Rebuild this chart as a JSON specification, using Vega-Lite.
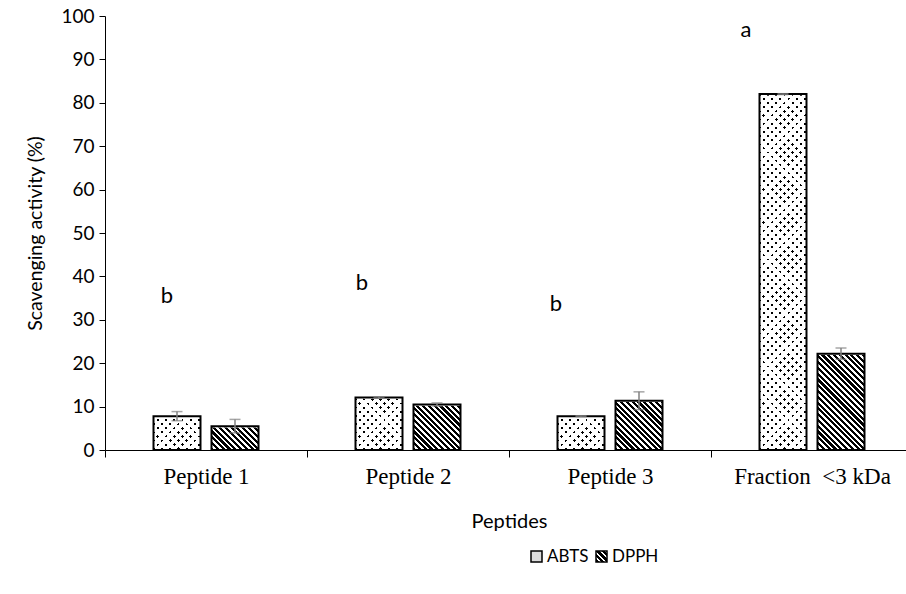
{
"$schema":"https://vega.github.io/schema/vega-lite/v6.json",
"width":801,"height":434,
"autosize":{"type":"none"},
"padding":{"left":105,"top":16,"right":0,"bottom":144},
"background":"white",
"config":{"view":{"stroke":null},"font":"Lato","axis":{"labelColor":"#000","titleColor":"#000","domainColor":"#000","tickColor":"#000","titleFontWeight":"normal","grid":false},
"axisY":{"tickSize":6,"labelFont":"Lato","labelFontSize":19,"labelPadding":5,"titleFont":"Lato","titleFontSize":19.5,"titlePadding":15,"tickCount":10,"domainWidth":1}},
"datasets":{
"bars":[
{"cat":"Peptide 1","series":"ABTS","value":7.8,"lo":6.75,"hi":8.85},
{"cat":"Peptide 1","series":"DPPH","value":5.5,"lo":3.95,"hi":7.05},
{"cat":"Peptide 2","series":"ABTS","value":12.1,"lo":11.95,"hi":12.25},
{"cat":"Peptide 2","series":"DPPH","value":10.5,"lo":10.15,"hi":10.85},
{"cat":"Peptide 3","series":"ABTS","value":7.8,"lo":7.7,"hi":7.9},
{"cat":"Peptide 3","series":"DPPH","value":11.35,"lo":9.3,"hi":13.4},
{"cat":"Fraction\u00a0 <3 kDa","series":"ABTS","value":82.0,"lo":81.9,"hi":82.1},
{"cat":"Fraction\u00a0 <3 kDa","series":"DPPH","value":22.2,"lo":20.9,"hi":23.5}
],
"letters":[
{"cat":"Peptide 1","series":"ABTS","letter":"b","pos":35.5},
{"cat":"Peptide 2","series":"ABTS","letter":"b","pos":38.5},
{"cat":"Peptide 3","series":"ABTS","letter":"b","pos":33.6},
{"cat":"Fraction\u00a0 <3 kDa","series":"ABTS","letter":"a","pos":96.8}
]},
"data":{"name":"bars"},
"encoding":{
"x":{"field":"cat","type":"nominal","scale":{"domain":["Peptide 1","Peptide 2","Peptide 3","Fraction\u00a0 <3 kDa"],"range":[0,808],"paddingInner":0,"paddingOuter":0},
"axis":{"title":"Peptides","tickBand":"extent","tickSize":7,"labelFont":"Liberation Serif","labelFontSize":23,"labelPadding":8,"labelAngle":0,"titleFont":"Lato","titleFontSize":20,"titlePadding":23,"domainWidth":1}},
"xOffset":{"field":"series","type":"nominal","scale":{"domain":["ABTS","DPPH"],"paddingInner":0.18966,"paddingOuter":0.83621}}
},
"layer":[
{"transform":[{"filter":"datum.series==='ABTS'"}],
"mark":{"type":"bar","strokeWidth":0,"fill":{"gradient":"linear","x1":0,"y1":0,"x2":0.14316,"y2":1.11046,"stops":[
{"offset":0,"color":"#000"},{"offset":0.007,"color":"#000"},{"offset":0.007,"color":"#fff"},{"offset":0.02,"color":"#fff"},
{"offset":0.02,"color":"#000"},{"offset":0.027,"color":"#000"},{"offset":0.027,"color":"#fff"},{"offset":0.04,"color":"#fff"},
{"offset":0.04,"color":"#000"},{"offset":0.047,"color":"#000"},{"offset":0.047,"color":"#fff"},{"offset":0.06,"color":"#fff"},
{"offset":0.06,"color":"#000"},{"offset":0.067,"color":"#000"},{"offset":0.067,"color":"#fff"},{"offset":0.08,"color":"#fff"},
{"offset":0.08,"color":"#000"},{"offset":0.087,"color":"#000"},{"offset":0.087,"color":"#fff"},{"offset":0.1,"color":"#fff"},
{"offset":0.1,"color":"#000"},{"offset":0.107,"color":"#000"},{"offset":0.107,"color":"#fff"},{"offset":0.12,"color":"#fff"},
{"offset":0.12,"color":"#000"},{"offset":0.127,"color":"#000"},{"offset":0.127,"color":"#fff"},{"offset":0.14,"color":"#fff"},
{"offset":0.14,"color":"#000"},{"offset":0.147,"color":"#000"},{"offset":0.147,"color":"#fff"},{"offset":0.16,"color":"#fff"},
{"offset":0.16,"color":"#000"},{"offset":0.167,"color":"#000"},{"offset":0.167,"color":"#fff"},{"offset":0.18,"color":"#fff"},
{"offset":0.18,"color":"#000"},{"offset":0.187,"color":"#000"},{"offset":0.187,"color":"#fff"},{"offset":0.2,"color":"#fff"},
{"offset":0.2,"color":"#000"},{"offset":0.207,"color":"#000"},{"offset":0.207,"color":"#fff"},{"offset":0.22,"color":"#fff"},
{"offset":0.22,"color":"#000"},{"offset":0.227,"color":"#000"},{"offset":0.227,"color":"#fff"},{"offset":0.24,"color":"#fff"},
{"offset":0.24,"color":"#000"},{"offset":0.247,"color":"#000"},{"offset":0.247,"color":"#fff"},{"offset":0.26,"color":"#fff"},
{"offset":0.26,"color":"#000"},{"offset":0.267,"color":"#000"},{"offset":0.267,"color":"#fff"},{"offset":0.28,"color":"#fff"},
{"offset":0.28,"color":"#000"},{"offset":0.287,"color":"#000"},{"offset":0.287,"color":"#fff"},{"offset":0.3,"color":"#fff"},
{"offset":0.3,"color":"#000"},{"offset":0.307,"color":"#000"},{"offset":0.307,"color":"#fff"},{"offset":0.32,"color":"#fff"},
{"offset":0.32,"color":"#000"},{"offset":0.327,"color":"#000"},{"offset":0.327,"color":"#fff"},{"offset":0.34,"color":"#fff"},
{"offset":0.34,"color":"#000"},{"offset":0.347,"color":"#000"},{"offset":0.347,"color":"#fff"},{"offset":0.36,"color":"#fff"},
{"offset":0.36,"color":"#000"},{"offset":0.367,"color":"#000"},{"offset":0.367,"color":"#fff"},{"offset":0.38,"color":"#fff"},
{"offset":0.38,"color":"#000"},{"offset":0.387,"color":"#000"},{"offset":0.387,"color":"#fff"},{"offset":0.4,"color":"#fff"},
{"offset":0.4,"color":"#000"},{"offset":0.407,"color":"#000"},{"offset":0.407,"color":"#fff"},{"offset":0.42,"color":"#fff"},
{"offset":0.42,"color":"#000"},{"offset":0.427,"color":"#000"},{"offset":0.427,"color":"#fff"},{"offset":0.44,"color":"#fff"},
{"offset":0.44,"color":"#000"},{"offset":0.447,"color":"#000"},{"offset":0.447,"color":"#fff"},{"offset":0.46,"color":"#fff"},
{"offset":0.46,"color":"#000"},{"offset":0.467,"color":"#000"},{"offset":0.467,"color":"#fff"},{"offset":0.48,"color":"#fff"},
{"offset":0.48,"color":"#000"},{"offset":0.487,"color":"#000"},{"offset":0.487,"color":"#fff"},{"offset":0.5,"color":"#fff"},
{"offset":0.5,"color":"#000"},{"offset":0.507,"color":"#000"},{"offset":0.507,"color":"#fff"},{"offset":0.52,"color":"#fff"},
{"offset":0.52,"color":"#000"},{"offset":0.527,"color":"#000"},{"offset":0.527,"color":"#fff"},{"offset":0.54,"color":"#fff"},
{"offset":0.54,"color":"#000"},{"offset":0.547,"color":"#000"},{"offset":0.547,"color":"#fff"},{"offset":0.56,"color":"#fff"},
{"offset":0.56,"color":"#000"},{"offset":0.567,"color":"#000"},{"offset":0.567,"color":"#fff"},{"offset":0.58,"color":"#fff"},
{"offset":0.58,"color":"#000"},{"offset":0.587,"color":"#000"},{"offset":0.587,"color":"#fff"},{"offset":0.6,"color":"#fff"},
{"offset":0.6,"color":"#000"},{"offset":0.607,"color":"#000"},{"offset":0.607,"color":"#fff"},{"offset":0.62,"color":"#fff"},
{"offset":0.62,"color":"#000"},{"offset":0.627,"color":"#000"},{"offset":0.627,"color":"#fff"},{"offset":0.64,"color":"#fff"},
{"offset":0.64,"color":"#000"},{"offset":0.647,"color":"#000"},{"offset":0.647,"color":"#fff"},{"offset":0.66,"color":"#fff"},
{"offset":0.66,"color":"#000"},{"offset":0.667,"color":"#000"},{"offset":0.667,"color":"#fff"},{"offset":0.68,"color":"#fff"},
{"offset":0.68,"color":"#000"},{"offset":0.687,"color":"#000"},{"offset":0.687,"color":"#fff"},{"offset":0.7,"color":"#fff"},
{"offset":0.7,"color":"#000"},{"offset":0.707,"color":"#000"},{"offset":0.707,"color":"#fff"},{"offset":0.72,"color":"#fff"},
{"offset":0.72,"color":"#000"},{"offset":0.727,"color":"#000"},{"offset":0.727,"color":"#fff"},{"offset":0.74,"color":"#fff"},
{"offset":0.74,"color":"#000"},{"offset":0.747,"color":"#000"},{"offset":0.747,"color":"#fff"},{"offset":0.76,"color":"#fff"},
{"offset":0.76,"color":"#000"},{"offset":0.767,"color":"#000"},{"offset":0.767,"color":"#fff"},{"offset":0.78,"color":"#fff"},
{"offset":0.78,"color":"#000"},{"offset":0.787,"color":"#000"},{"offset":0.787,"color":"#fff"},{"offset":0.8,"color":"#fff"},
{"offset":0.8,"color":"#000"},{"offset":0.807,"color":"#000"},{"offset":0.807,"color":"#fff"},{"offset":0.82,"color":"#fff"},
{"offset":0.82,"color":"#000"},{"offset":0.827,"color":"#000"},{"offset":0.827,"color":"#fff"},{"offset":0.84,"color":"#fff"},
{"offset":0.84,"color":"#000"},{"offset":0.847,"color":"#000"},{"offset":0.847,"color":"#fff"},{"offset":0.86,"color":"#fff"},
{"offset":0.86,"color":"#000"},{"offset":0.867,"color":"#000"},{"offset":0.867,"color":"#fff"},{"offset":0.88,"color":"#fff"},
{"offset":0.88,"color":"#000"},{"offset":0.887,"color":"#000"},{"offset":0.887,"color":"#fff"},{"offset":0.9,"color":"#fff"},
{"offset":0.9,"color":"#000"},{"offset":0.907,"color":"#000"},{"offset":0.907,"color":"#fff"},{"offset":0.92,"color":"#fff"},
{"offset":0.92,"color":"#000"},{"offset":0.927,"color":"#000"},{"offset":0.927,"color":"#fff"},{"offset":0.94,"color":"#fff"},
{"offset":0.94,"color":"#000"},{"offset":0.947,"color":"#000"},{"offset":0.947,"color":"#fff"},{"offset":0.96,"color":"#fff"},
{"offset":0.96,"color":"#000"},{"offset":0.967,"color":"#000"},{"offset":0.967,"color":"#fff"},{"offset":0.98,"color":"#fff"},
{"offset":0.98,"color":"#000"},{"offset":0.987,"color":"#000"},{"offset":0.987,"color":"#fff"},{"offset":1,"color":"#fff"}
]}},
"encoding":{"y":{"datum":84,"type":"quantitative","scale":{"domain":[0,100]},"title":"Scavenging activity (%)"},"y2":{"datum":0}}},
{"transform":[{"filter":"datum.series==='ABTS'"}],
"mark":{"type":"bar","strokeWidth":0,"fill":{"gradient":"linear","x1":0,"y1":1,"x2":0.14316,"y2":-0.11046,"stops":[
{"offset":0,"color":"#fff0"},{"offset":0.007,"color":"#fff0"},{"offset":0.007,"color":"#fff"},{"offset":0.02,"color":"#fff"},
{"offset":0.02,"color":"#fff0"},{"offset":0.027,"color":"#fff0"},{"offset":0.027,"color":"#fff"},{"offset":0.04,"color":"#fff"},
{"offset":0.04,"color":"#fff0"},{"offset":0.047,"color":"#fff0"},{"offset":0.047,"color":"#fff"},{"offset":0.06,"color":"#fff"},
{"offset":0.06,"color":"#fff0"},{"offset":0.067,"color":"#fff0"},{"offset":0.067,"color":"#fff"},{"offset":0.08,"color":"#fff"},
{"offset":0.08,"color":"#fff0"},{"offset":0.087,"color":"#fff0"},{"offset":0.087,"color":"#fff"},{"offset":0.1,"color":"#fff"},
{"offset":0.1,"color":"#fff0"},{"offset":0.107,"color":"#fff0"},{"offset":0.107,"color":"#fff"},{"offset":0.12,"color":"#fff"},
{"offset":0.12,"color":"#fff0"},{"offset":0.127,"color":"#fff0"},{"offset":0.127,"color":"#fff"},{"offset":0.14,"color":"#fff"},
{"offset":0.14,"color":"#fff0"},{"offset":0.147,"color":"#fff0"},{"offset":0.147,"color":"#fff"},{"offset":0.16,"color":"#fff"},
{"offset":0.16,"color":"#fff0"},{"offset":0.167,"color":"#fff0"},{"offset":0.167,"color":"#fff"},{"offset":0.18,"color":"#fff"},
{"offset":0.18,"color":"#fff0"},{"offset":0.187,"color":"#fff0"},{"offset":0.187,"color":"#fff"},{"offset":0.2,"color":"#fff"},
{"offset":0.2,"color":"#fff0"},{"offset":0.207,"color":"#fff0"},{"offset":0.207,"color":"#fff"},{"offset":0.22,"color":"#fff"},
{"offset":0.22,"color":"#fff0"},{"offset":0.227,"color":"#fff0"},{"offset":0.227,"color":"#fff"},{"offset":0.24,"color":"#fff"},
{"offset":0.24,"color":"#fff0"},{"offset":0.247,"color":"#fff0"},{"offset":0.247,"color":"#fff"},{"offset":0.26,"color":"#fff"},
{"offset":0.26,"color":"#fff0"},{"offset":0.267,"color":"#fff0"},{"offset":0.267,"color":"#fff"},{"offset":0.28,"color":"#fff"},
{"offset":0.28,"color":"#fff0"},{"offset":0.287,"color":"#fff0"},{"offset":0.287,"color":"#fff"},{"offset":0.3,"color":"#fff"},
{"offset":0.3,"color":"#fff0"},{"offset":0.307,"color":"#fff0"},{"offset":0.307,"color":"#fff"},{"offset":0.32,"color":"#fff"},
{"offset":0.32,"color":"#fff0"},{"offset":0.327,"color":"#fff0"},{"offset":0.327,"color":"#fff"},{"offset":0.34,"color":"#fff"},
{"offset":0.34,"color":"#fff0"},{"offset":0.347,"color":"#fff0"},{"offset":0.347,"color":"#fff"},{"offset":0.36,"color":"#fff"},
{"offset":0.36,"color":"#fff0"},{"offset":0.367,"color":"#fff0"},{"offset":0.367,"color":"#fff"},{"offset":0.38,"color":"#fff"},
{"offset":0.38,"color":"#fff0"},{"offset":0.387,"color":"#fff0"},{"offset":0.387,"color":"#fff"},{"offset":0.4,"color":"#fff"},
{"offset":0.4,"color":"#fff0"},{"offset":0.407,"color":"#fff0"},{"offset":0.407,"color":"#fff"},{"offset":0.42,"color":"#fff"},
{"offset":0.42,"color":"#fff0"},{"offset":0.427,"color":"#fff0"},{"offset":0.427,"color":"#fff"},{"offset":0.44,"color":"#fff"},
{"offset":0.44,"color":"#fff0"},{"offset":0.447,"color":"#fff0"},{"offset":0.447,"color":"#fff"},{"offset":0.46,"color":"#fff"},
{"offset":0.46,"color":"#fff0"},{"offset":0.467,"color":"#fff0"},{"offset":0.467,"color":"#fff"},{"offset":0.48,"color":"#fff"},
{"offset":0.48,"color":"#fff0"},{"offset":0.487,"color":"#fff0"},{"offset":0.487,"color":"#fff"},{"offset":0.5,"color":"#fff"},
{"offset":0.5,"color":"#fff0"},{"offset":0.507,"color":"#fff0"},{"offset":0.507,"color":"#fff"},{"offset":0.52,"color":"#fff"},
{"offset":0.52,"color":"#fff0"},{"offset":0.527,"color":"#fff0"},{"offset":0.527,"color":"#fff"},{"offset":0.54,"color":"#fff"},
{"offset":0.54,"color":"#fff0"},{"offset":0.547,"color":"#fff0"},{"offset":0.547,"color":"#fff"},{"offset":0.56,"color":"#fff"},
{"offset":0.56,"color":"#fff0"},{"offset":0.567,"color":"#fff0"},{"offset":0.567,"color":"#fff"},{"offset":0.58,"color":"#fff"},
{"offset":0.58,"color":"#fff0"},{"offset":0.587,"color":"#fff0"},{"offset":0.587,"color":"#fff"},{"offset":0.6,"color":"#fff"},
{"offset":0.6,"color":"#fff0"},{"offset":0.607,"color":"#fff0"},{"offset":0.607,"color":"#fff"},{"offset":0.62,"color":"#fff"},
{"offset":0.62,"color":"#fff0"},{"offset":0.627,"color":"#fff0"},{"offset":0.627,"color":"#fff"},{"offset":0.64,"color":"#fff"},
{"offset":0.64,"color":"#fff0"},{"offset":0.647,"color":"#fff0"},{"offset":0.647,"color":"#fff"},{"offset":0.66,"color":"#fff"},
{"offset":0.66,"color":"#fff0"},{"offset":0.667,"color":"#fff0"},{"offset":0.667,"color":"#fff"},{"offset":0.68,"color":"#fff"},
{"offset":0.68,"color":"#fff0"},{"offset":0.687,"color":"#fff0"},{"offset":0.687,"color":"#fff"},{"offset":0.7,"color":"#fff"},
{"offset":0.7,"color":"#fff0"},{"offset":0.707,"color":"#fff0"},{"offset":0.707,"color":"#fff"},{"offset":0.72,"color":"#fff"},
{"offset":0.72,"color":"#fff0"},{"offset":0.727,"color":"#fff0"},{"offset":0.727,"color":"#fff"},{"offset":0.74,"color":"#fff"},
{"offset":0.74,"color":"#fff0"},{"offset":0.747,"color":"#fff0"},{"offset":0.747,"color":"#fff"},{"offset":0.76,"color":"#fff"},
{"offset":0.76,"color":"#fff0"},{"offset":0.767,"color":"#fff0"},{"offset":0.767,"color":"#fff"},{"offset":0.78,"color":"#fff"},
{"offset":0.78,"color":"#fff0"},{"offset":0.787,"color":"#fff0"},{"offset":0.787,"color":"#fff"},{"offset":0.8,"color":"#fff"},
{"offset":0.8,"color":"#fff0"},{"offset":0.807,"color":"#fff0"},{"offset":0.807,"color":"#fff"},{"offset":0.82,"color":"#fff"},
{"offset":0.82,"color":"#fff0"},{"offset":0.827,"color":"#fff0"},{"offset":0.827,"color":"#fff"},{"offset":0.84,"color":"#fff"},
{"offset":0.84,"color":"#fff0"},{"offset":0.847,"color":"#fff0"},{"offset":0.847,"color":"#fff"},{"offset":0.86,"color":"#fff"},
{"offset":0.86,"color":"#fff0"},{"offset":0.867,"color":"#fff0"},{"offset":0.867,"color":"#fff"},{"offset":0.88,"color":"#fff"},
{"offset":0.88,"color":"#fff0"},{"offset":0.887,"color":"#fff0"},{"offset":0.887,"color":"#fff"},{"offset":0.9,"color":"#fff"},
{"offset":0.9,"color":"#fff0"},{"offset":0.907,"color":"#fff0"},{"offset":0.907,"color":"#fff"},{"offset":0.92,"color":"#fff"},
{"offset":0.92,"color":"#fff0"},{"offset":0.927,"color":"#fff0"},{"offset":0.927,"color":"#fff"},{"offset":0.94,"color":"#fff"},
{"offset":0.94,"color":"#fff0"},{"offset":0.947,"color":"#fff0"},{"offset":0.947,"color":"#fff"},{"offset":0.96,"color":"#fff"},
{"offset":0.96,"color":"#fff0"},{"offset":0.967,"color":"#fff0"},{"offset":0.967,"color":"#fff"},{"offset":0.98,"color":"#fff"},
{"offset":0.98,"color":"#fff0"},{"offset":0.987,"color":"#fff0"},{"offset":0.987,"color":"#fff"},{"offset":1,"color":"#fff"}
]}},
"encoding":{"y":{"datum":84,"type":"quantitative","scale":{"domain":[0,100]},"title":"Scavenging activity (%)"},"y2":{"datum":0}}},
{"transform":[{"filter":"datum.series==='DPPH'"}],
"mark":{"type":"bar","strokeWidth":0,"fill":{"gradient":"linear","x1":0,"y1":1,"x2":0.57888,"y2":-0.20274,"stops":[
{"offset":0,"color":"#000"},{"offset":0.022,"color":"#000"},{"offset":0.022,"color":"#fff"},{"offset":0.04,"color":"#fff"},
{"offset":0.04,"color":"#000"},{"offset":0.062,"color":"#000"},{"offset":0.062,"color":"#fff"},{"offset":0.08,"color":"#fff"},
{"offset":0.08,"color":"#000"},{"offset":0.102,"color":"#000"},{"offset":0.102,"color":"#fff"},{"offset":0.12,"color":"#fff"},
{"offset":0.12,"color":"#000"},{"offset":0.142,"color":"#000"},{"offset":0.142,"color":"#fff"},{"offset":0.16,"color":"#fff"},
{"offset":0.16,"color":"#000"},{"offset":0.182,"color":"#000"},{"offset":0.182,"color":"#fff"},{"offset":0.2,"color":"#fff"},
{"offset":0.2,"color":"#000"},{"offset":0.222,"color":"#000"},{"offset":0.222,"color":"#fff"},{"offset":0.24,"color":"#fff"},
{"offset":0.24,"color":"#000"},{"offset":0.262,"color":"#000"},{"offset":0.262,"color":"#fff"},{"offset":0.28,"color":"#fff"},
{"offset":0.28,"color":"#000"},{"offset":0.302,"color":"#000"},{"offset":0.302,"color":"#fff"},{"offset":0.32,"color":"#fff"},
{"offset":0.32,"color":"#000"},{"offset":0.342,"color":"#000"},{"offset":0.342,"color":"#fff"},{"offset":0.36,"color":"#fff"},
{"offset":0.36,"color":"#000"},{"offset":0.382,"color":"#000"},{"offset":0.382,"color":"#fff"},{"offset":0.4,"color":"#fff"},
{"offset":0.4,"color":"#000"},{"offset":0.422,"color":"#000"},{"offset":0.422,"color":"#fff"},{"offset":0.44,"color":"#fff"},
{"offset":0.44,"color":"#000"},{"offset":0.462,"color":"#000"},{"offset":0.462,"color":"#fff"},{"offset":0.48,"color":"#fff"},
{"offset":0.48,"color":"#000"},{"offset":0.502,"color":"#000"},{"offset":0.502,"color":"#fff"},{"offset":0.52,"color":"#fff"},
{"offset":0.52,"color":"#000"},{"offset":0.542,"color":"#000"},{"offset":0.542,"color":"#fff"},{"offset":0.56,"color":"#fff"},
{"offset":0.56,"color":"#000"},{"offset":0.582,"color":"#000"},{"offset":0.582,"color":"#fff"},{"offset":0.6,"color":"#fff"},
{"offset":0.6,"color":"#000"},{"offset":0.622,"color":"#000"},{"offset":0.622,"color":"#fff"},{"offset":0.64,"color":"#fff"},
{"offset":0.64,"color":"#000"},{"offset":0.662,"color":"#000"},{"offset":0.662,"color":"#fff"},{"offset":0.68,"color":"#fff"},
{"offset":0.68,"color":"#000"},{"offset":0.702,"color":"#000"},{"offset":0.702,"color":"#fff"},{"offset":0.72,"color":"#fff"},
{"offset":0.72,"color":"#000"},{"offset":0.742,"color":"#000"},{"offset":0.742,"color":"#fff"},{"offset":0.76,"color":"#fff"},
{"offset":0.76,"color":"#000"},{"offset":0.782,"color":"#000"},{"offset":0.782,"color":"#fff"},{"offset":0.8,"color":"#fff"},
{"offset":0.8,"color":"#000"},{"offset":0.822,"color":"#000"},{"offset":0.822,"color":"#fff"},{"offset":0.84,"color":"#fff"},
{"offset":0.84,"color":"#000"},{"offset":0.862,"color":"#000"},{"offset":0.862,"color":"#fff"},{"offset":0.88,"color":"#fff"},
{"offset":0.88,"color":"#000"},{"offset":0.902,"color":"#000"},{"offset":0.902,"color":"#fff"},{"offset":0.92,"color":"#fff"},
{"offset":0.92,"color":"#000"},{"offset":0.942,"color":"#000"},{"offset":0.942,"color":"#fff"},{"offset":0.96,"color":"#fff"},
{"offset":0.96,"color":"#000"},{"offset":0.982,"color":"#000"},{"offset":0.982,"color":"#fff"},{"offset":1,"color":"#fff"}
]}},
"encoding":{"y":{"datum":22.5,"type":"quantitative","scale":{"domain":[0,100]},"title":"Scavenging activity (%)"},"y2":{"datum":0}}},
{"mark":{"type":"bar","fill":"#fff","stroke":"#fff","strokeWidth":2.5},
"encoding":{"y":{"field":"value","type":"quantitative","scale":{"domain":[0,100]},"title":"Scavenging activity (%)"},"y2":{"datum":100}}},
{"mark":{"type":"bar","fill":"transparent","strokeWidth":2},
"encoding":{
"y":{"field":"value","type":"quantitative","scale":{"domain":[0,100]},"title":"Scavenging activity (%)"},
"stroke":{"field":"series","type":"nominal","scale":{"domain":["ABTS","DPPH"],"range":["#000","#000"]},
"legend":{"orient":"none","legendX":423,"legendY":532,"direction":"horizontal","title":null,"symbolType":"square","symbolSize":121,"symbolStrokeWidth":1.5,"labelFont":"Lato","labelFontSize":17,"labelColor":"#000","columnPadding":4,"labelOffset":2,
"encoding":{"symbols":{"fill":{"condition":{"test":"datum.value==='DPPH'","value":{"gradient":"linear","x1":0,"y1":1,"x2":1,"y2":0,"stops":[
{"offset":0,"color":"#000"},{"offset":0.14,"color":"#000"},{"offset":0.14,"color":"#fff"},{"offset":0.25,"color":"#fff"},
{"offset":0.25,"color":"#000"},{"offset":0.39,"color":"#000"},{"offset":0.39,"color":"#fff"},{"offset":0.5,"color":"#fff"},
{"offset":0.5,"color":"#000"},{"offset":0.64,"color":"#000"},{"offset":0.64,"color":"#fff"},{"offset":0.75,"color":"#fff"},
{"offset":0.75,"color":"#000"},{"offset":0.89,"color":"#000"},{"offset":0.89,"color":"#fff"},{"offset":1,"color":"#fff"}]}},
"value":"#dcdcdc"}}}}}
}},
{"mark":{"type":"rule","color":"#808080","strokeWidth":1.5},
"encoding":{"y":{"field":"lo","type":"quantitative","scale":{"domain":[0,100]},"title":"Scavenging activity (%)"},"y2":{"field":"hi"}}},
{"mark":{"type":"tick","color":"#808080","thickness":1.5,"size":11},
"encoding":{"y":{"field":"hi","type":"quantitative","scale":{"domain":[0,100]},"title":"Scavenging activity (%)"}}},
{"mark":{"type":"tick","color":"#808080","thickness":1.5,"size":11},
"encoding":{"y":{"field":"lo","type":"quantitative","scale":{"domain":[0,100]},"title":"Scavenging activity (%)"}}},
{"data":{"name":"letters"},"transform":[{"filter":"datum.cat==='Peptide 1'"}],
"mark":{"type":"text","font":"Lato","fontSize":22,"color":"#000","baseline":"middle","dx":-10},
"encoding":{"y":{"field":"pos","type":"quantitative","scale":{"domain":[0,100]},"title":"Scavenging activity (%)"},"text":{"field":"letter"}}},
{"data":{"name":"letters"},"transform":[{"filter":"datum.cat==='Peptide 2'"}],
"mark":{"type":"text","font":"Lato","fontSize":22,"color":"#000","baseline":"middle","dx":-17},
"encoding":{"y":{"field":"pos","type":"quantitative","scale":{"domain":[0,100]},"title":"Scavenging activity (%)"},"text":{"field":"letter"}}},
{"data":{"name":"letters"},"transform":[{"filter":"datum.cat==='Peptide 3'"}],
"mark":{"type":"text","font":"Lato","fontSize":22,"color":"#000","baseline":"middle","dx":-25},
"encoding":{"y":{"field":"pos","type":"quantitative","scale":{"domain":[0,100]},"title":"Scavenging activity (%)"},"text":{"field":"letter"}}},
{"data":{"name":"letters"},"transform":[{"filter":"datum.cat==='Fraction\u00a0 <3 kDa'"}],
"mark":{"type":"text","font":"Lato","fontSize":22,"color":"#000","baseline":"middle","dx":-37},
"encoding":{"y":{"field":"pos","type":"quantitative","scale":{"domain":[0,100]},"title":"Scavenging activity (%)"},"text":{"field":"letter"}}}
]
}
